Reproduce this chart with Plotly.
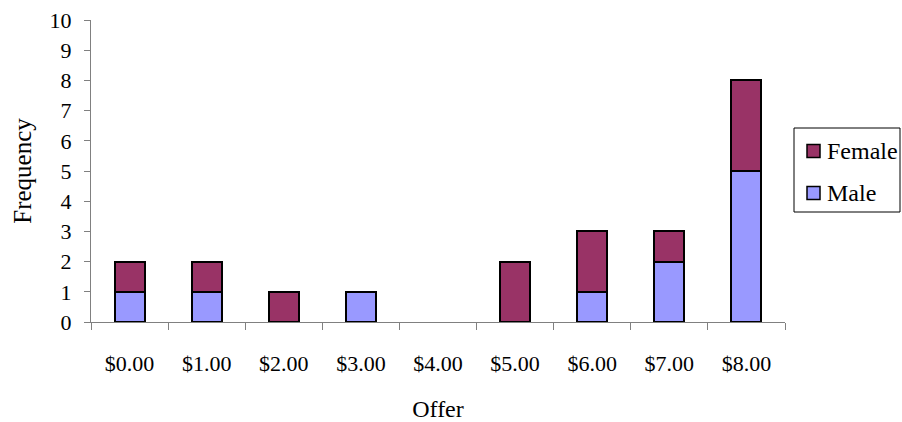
import plotly.graph_objects as go

offers = ["$0.00", "$1.00", "$2.00", "$3.00", "$4.00", "$5.00", "$6.00", "$7.00", "$8.00"]
male = [1, 1, 0, 1, 0, 0, 1, 2, 5]
female = [1, 1, 1, 0, 0, 2, 2, 1, 3]

FONT = "Liberation Serif"
MALE_COLOR = "#9999FF"
FEMALE_COLOR = "#993366"

W, H = 902, 422
ML, MR, MT, MB = 91, 117, 20, 100


def nonzero(values):
    # empty segments are left out so no outline is drawn for them
    return [v if v else None for v in values]


fig = go.Figure()
fig.add_trace(go.Bar(
    x=offers, y=nonzero(male), name="Male",
    marker=dict(color=MALE_COLOR, line=dict(color="black", width=2)),
    width=0.39,
))
fig.add_trace(go.Bar(
    x=offers, y=nonzero(female), name="Female",
    marker=dict(color=FEMALE_COLOR, line=dict(color="black", width=2)),
    width=0.39,
))

# paper coordinates are fractions of the plot area; convert from page pixels
PW, PH = W - ML - MR, H - MT - MB
def px(x):
    return (x - ML) / PW
def py(y):
    return (H - MB - y) / PH

shapes = [
    dict(type="rect", xref="paper", yref="paper",
         x0=px(794), x1=px(900), y0=py(212), y1=py(128),
         line=dict(color="black", width=1), fillcolor="white", layer="below"),
]
annotations = []
for i, (label, color) in enumerate([("Female", FEMALE_COLOR), ("Male", MALE_COLOR)]):
    cy = 151 + i * 42
    shapes.append(dict(type="rect", xref="paper", yref="paper",
                       x0=px(807), x1=px(820), y0=py(cy + 6.5), y1=py(cy - 6.5),
                       line=dict(color="black", width=1.5), fillcolor=color))
    annotations.append(dict(xref="paper", yref="paper", x=px(825), y=py(cy),
                            xanchor="left", yanchor="middle", text=label, showarrow=False,
                            font=dict(family=FONT, size=24, color="black")))

fig.update_layout(
    barmode="stack",
    width=W, height=H,
    margin=dict(l=ML, r=MR, t=MT, b=MB),
    paper_bgcolor="white", plot_bgcolor="white",
    font=dict(family=FONT, size=22, color="black"),
    showlegend=False,
    shapes=shapes,
    annotations=annotations,
    xaxis=dict(
        type="category", automargin=False,
        showline=True, linecolor="#808080", linewidth=1,
        ticks="outside", tickson="boundaries", ticklen=7, tickcolor="#808080",
        title=dict(text="Offer", standoff=24, font=dict(size=24)),
        ticklabelstandoff=22,
        showgrid=False, zeroline=False,
        range=[-0.5, 8.5],
    ),
    yaxis=dict(
        range=[0, 10], dtick=1, automargin=False,
        showline=True, linecolor="#808080", linewidth=1,
        ticks="outside", ticklen=6, tickcolor="#808080",
        ticklabelstandoff=8,
        title=dict(text="Frequency", standoff=10, font=dict(size=25)),
        showgrid=False, zeroline=False,
    ),
)

fig.write_html("out.html")
